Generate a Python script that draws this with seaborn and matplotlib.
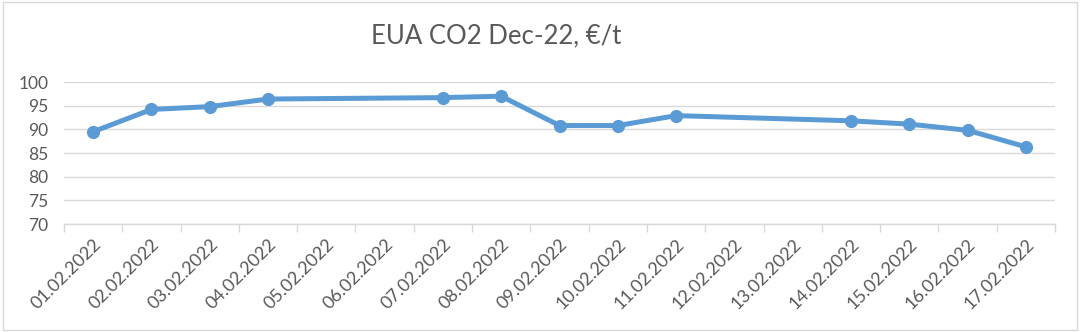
import numpy as np
import pandas as pd
import matplotlib
matplotlib.use("Agg")
import matplotlib.pyplot as plt
import seaborn as sns

dates = ["01.02.2022", "02.02.2022", "03.02.2022", "04.02.2022", "05.02.2022",
         "06.02.2022", "07.02.2022", "08.02.2022", "09.02.2022", "10.02.2022",
         "11.02.2022", "12.02.2022", "13.02.2022", "14.02.2022", "15.02.2022",
         "16.02.2022", "17.02.2022"]
prices = [89.5, 94.2, 94.8, 96.4, None, None, 96.7, 97.0, 90.8, 90.8,
          92.9, None, None, 91.8, 91.1, 89.8, 86.3]
y_ticks = [70, 75, 80, 85, 90, 95, 100]

sns.set_theme(style="white")
plt.rcParams['font.family'] = ['Lato', 'DejaVu Sans']

df = pd.DataFrame({"date": dates, "price": prices})
df["pos"] = np.arange(len(dates)) + 0.5
df = df.dropna()

fig = plt.figure(figsize=(10.8, 3.32), dpi=100)
ax = fig.add_axes([64/1080, 1-224/332, (1055-64)/1080, (224-82)/332])

sns.lineplot(data=df, x="pos", y="price", ax=ax, color="#5B9BD5",
             linewidth=3.6, marker="o", markersize=9.5, markeredgewidth=0,
             markerfacecolor="#5B9BD5")

ax.set_xlim(0, len(dates))
ax.set_ylim(70, 100)
ax.set_yticks(y_ticks)
ax.set_yticklabels([str(v) for v in y_ticks], fontsize=12.5, color="#595959")
ax.set_xticks(np.arange(len(dates) + 1))
ax.set_xticklabels([])
ax.set_xticks(np.arange(len(dates)) + 0.5, minor=True)
ax.set_xticklabels(dates, minor=True, rotation=45, ha="right",
                   rotation_mode="anchor", fontsize=13, color="#595959")
ax.tick_params(axis="x", which="major", length=6, width=1, color="#D9D9D9",
               direction="out", bottom=True)
ax.tick_params(axis="x", which="minor", length=0, pad=9)
ax.tick_params(axis="y", length=0, pad=11)
ax.set_xlabel("")
ax.set_ylabel("")
ax.grid(axis="y", color="#D9D9D9", linewidth=1)
ax.grid(axis="x", visible=False)
for s in ["top", "right", "left"]:
    ax.spines[s].set_visible(False)
ax.spines["bottom"].set_color("#D9D9D9")
ax.spines["bottom"].set_linewidth(1)
ax.spines["bottom"].set_zorder(0.5)
ax.set_axisbelow(True)

fig.text(496/1080, 1-36/332, "EUA CO2 Dec-22, €/t", ha="center", va="center",
         fontsize=18.5, color="#595959")

border = plt.Rectangle((0.003, 0.005), 0.994, 0.99, transform=fig.transFigure,
                       fill=False, edgecolor="#D9D9D9", linewidth=1)
fig.patches.append(border)

fig.savefig("out.png", dpi=100)
